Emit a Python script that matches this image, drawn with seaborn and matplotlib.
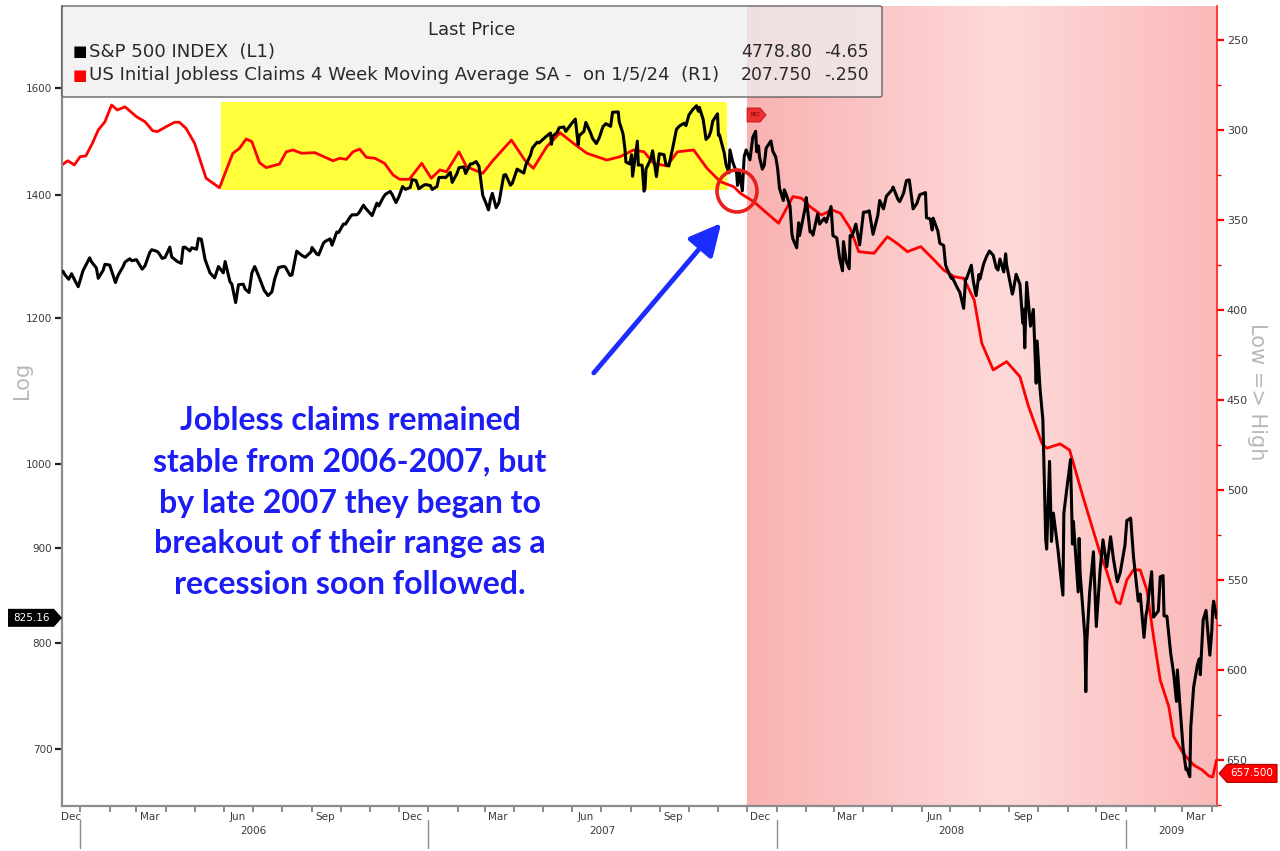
import numpy as np
import pandas as pd
import matplotlib
matplotlib.use("Agg")
import matplotlib.pyplot as plt
import matplotlib.dates as mdates
import matplotlib.transforms as mtrans
from matplotlib.patches import Rectangle, Ellipse, FancyArrowPatch, FancyBboxPatch, Polygon
from matplotlib.ticker import FixedLocator, NullLocator, FuncFormatter
import seaborn as sns

# ---------------- data ----------------
spx_dates = [
    "2005-12-14", "2005-12-16", "2005-12-20", "2005-12-23", "2005-12-27", "2005-12-30",
    "2006-01-04", "2006-01-11", "2006-01-13", "2006-01-18", "2006-01-20", "2006-01-25", "2006-01-27",
    "2006-02-01", "2006-02-07", "2006-02-10", "2006-02-15", "2006-02-17", "2006-02-22", "2006-02-24",
    "2006-03-01", "2006-03-07", "2006-03-10", "2006-03-15", "2006-03-17", "2006-03-22", "2006-03-24",
    "2006-03-28", "2006-03-31", "2006-04-05", "2006-04-07", "2006-04-13", "2006-04-17", "2006-04-19",
    "2006-04-21", "2006-04-26", "2006-04-28", "2006-05-03", "2006-05-05", "2006-05-08", "2006-05-12",
    "2006-05-17", "2006-05-19", "2006-05-22", "2006-05-26", "2006-05-31", "2006-06-02", "2006-06-07",
    "2006-06-09", "2006-06-13", "2006-06-16", "2006-06-21", "2006-06-23", "2006-06-27", "2006-06-30",
    "2006-07-03", "2006-07-07", "2006-07-13", "2006-07-17", "2006-07-21", "2006-07-24", "2006-07-28",
    "2006-08-02", "2006-08-04", "2006-08-09", "2006-08-11", "2006-08-16", "2006-08-18", "2006-08-22",
    "2006-08-25", "2006-08-31", "2006-09-01", "2006-09-06", "2006-09-08", "2006-09-13", "2006-09-15",
    "2006-09-20", "2006-09-22", "2006-09-27", "2006-09-29", "2006-10-04", "2006-10-06", "2006-10-11",
    "2006-10-13", "2006-10-18", "2006-10-20", "2006-10-25", "2006-10-27", "2006-11-01", "2006-11-03",
    "2006-11-08", "2006-11-10", "2006-11-15", "2006-11-17", "2006-11-22", "2006-11-24", "2006-11-28",
    "2006-12-01", "2006-12-05", "2006-12-08", "2006-12-13", "2006-12-15", "2006-12-19", "2006-12-22",
    "2006-12-27", "2006-12-29",
    "2007-01-03", "2007-01-05", "2007-01-10", "2007-01-12", "2007-01-17", "2007-01-19", "2007-01-24",
    "2007-01-26", "2007-01-31", "2007-02-02", "2007-02-07", "2007-02-09", "2007-02-14", "2007-02-16",
    "2007-02-20", "2007-02-23", "2007-02-27", "2007-03-02", "2007-03-05", "2007-03-07", "2007-03-09",
    "2007-03-13", "2007-03-16", "2007-03-21", "2007-03-23", "2007-03-28", "2007-03-30", "2007-04-04",
    "2007-04-06", "2007-04-11", "2007-04-13", "2007-04-18", "2007-04-20", "2007-04-25", "2007-04-27",
    "2007-05-02", "2007-05-04", "2007-05-09", "2007-05-10", "2007-05-11", "2007-05-16", "2007-05-18",
    "2007-05-23", "2007-05-25", "2007-05-31", "2007-06-04", "2007-06-07", "2007-06-08", "2007-06-13",
    "2007-06-15", "2007-06-20", "2007-06-22", "2007-06-26", "2007-06-29", "2007-07-03", "2007-07-06",
    "2007-07-11", "2007-07-13", "2007-07-19", "2007-07-20", "2007-07-24", "2007-07-26", "2007-07-27",
    "2007-07-31", "2007-08-02", "2007-08-03", "2007-08-08", "2007-08-09", "2007-08-10", "2007-08-13",
    "2007-08-15", "2007-08-16", "2007-08-17", "2007-08-22", "2007-08-24", "2007-08-28", "2007-08-31",
    "2007-09-05", "2007-09-07", "2007-09-10", "2007-09-14", "2007-09-18", "2007-09-21", "2007-09-26",
    "2007-09-28", "2007-10-01", "2007-10-05", "2007-10-09", "2007-10-11", "2007-10-12", "2007-10-16",
    "2007-10-19", "2007-10-22", "2007-10-24", "2007-10-26", "2007-10-31", "2007-11-01", "2007-11-02",
    "2007-11-07", "2007-11-09", "2007-11-12", "2007-11-13", "2007-11-16", "2007-11-20", "2007-11-21",
    "2007-11-23", "2007-11-26", "2007-11-28", "2007-11-30", "2007-12-04", "2007-12-07", "2007-12-10",
    "2007-12-11", "2007-12-13", "2007-12-14", "2007-12-17", "2007-12-19", "2007-12-21", "2007-12-26",
    "2007-12-28", "2007-12-31",
    "2008-01-02", "2008-01-04", "2008-01-08", "2008-01-09", "2008-01-11", "2008-01-15", "2008-01-17",
    "2008-01-18", "2008-01-22", "2008-01-24", "2008-01-25", "2008-01-28", "2008-01-31", "2008-02-01",
    "2008-02-05", "2008-02-07", "2008-02-08", "2008-02-13", "2008-02-15", "2008-02-20", "2008-02-22",
    "2008-02-27", "2008-02-29", "2008-03-04", "2008-03-07", "2008-03-10", "2008-03-11", "2008-03-14",
    "2008-03-17", "2008-03-18", "2008-03-20", "2008-03-24", "2008-03-28", "2008-04-01", "2008-04-04",
    "2008-04-07", "2008-04-11", "2008-04-16", "2008-04-18", "2008-04-22", "2008-04-25", "2008-05-01",
    "2008-05-02", "2008-05-07", "2008-05-09", "2008-05-13", "2008-05-16", "2008-05-19", "2008-05-23",
    "2008-05-27", "2008-05-30", "2008-06-05", "2008-06-06", "2008-06-10", "2008-06-12", "2008-06-13",
    "2008-06-18", "2008-06-20", "2008-06-24", "2008-06-26", "2008-06-27", "2008-07-02", "2008-07-03",
    "2008-07-09", "2008-07-11", "2008-07-15", "2008-07-17", "2008-07-18", "2008-07-23", "2008-07-25",
    "2008-07-28", "2008-07-31", "2008-08-01", "2008-08-05", "2008-08-08", "2008-08-11", "2008-08-15",
    "2008-08-18", "2008-08-20", "2008-08-22", "2008-08-26", "2008-08-28", "2008-08-29", "2008-09-04",
    "2008-09-05", "2008-09-08", "2008-09-12", "2008-09-15", "2008-09-16", "2008-09-17", "2008-09-19",
    "2008-09-23", "2008-09-26", "2008-09-29", "2008-09-30", "2008-10-03", "2008-10-06", "2008-10-09",
    "2008-10-10", "2008-10-13", "2008-10-15", "2008-10-17", "2008-10-22", "2008-10-24", "2008-10-27",
    "2008-10-28", "2008-10-31", "2008-11-04", "2008-11-06", "2008-11-07", "2008-11-12", "2008-11-13",
    "2008-11-14", "2008-11-19", "2008-11-20", "2008-11-21", "2008-11-24", "2008-11-28", "2008-12-01",
    "2008-12-05", "2008-12-08", "2008-12-12", "2008-12-16", "2008-12-19", "2008-12-23", "2008-12-26",
    "2008-12-31",
    "2009-01-02", "2009-01-06", "2009-01-09", "2009-01-14", "2009-01-16", "2009-01-20", "2009-01-22",
    "2009-01-23", "2009-01-28", "2009-01-30", "2009-02-04", "2009-02-06", "2009-02-09", "2009-02-10",
    "2009-02-13", "2009-02-17", "2009-02-20", "2009-02-23", "2009-02-24", "2009-02-27", "2009-03-02",
    "2009-03-05", "2009-03-06", "2009-03-09", "2009-03-10", "2009-03-13", "2009-03-17", "2009-03-19",
    "2009-03-20", "2009-03-23", "2009-03-26", "2009-03-30", "2009-04-01", "2009-04-02", "2009-04-03",
    "2009-04-06",
]
spx_values = [
    1272.7, 1267.3, 1259.9, 1268.7, 1256.5, 1248.3,
    1273.5, 1294.2, 1287.6, 1277.9, 1261.5, 1273.8, 1283.7,
    1282.5, 1254.8, 1266.9, 1280.0, 1287.2, 1292.7, 1289.4,
    1291.2, 1275.9, 1281.4, 1303.0, 1307.3, 1305.0, 1302.9,
    1293.2, 1294.8, 1311.6, 1295.5, 1288.1, 1285.3, 1311.3,
    1311.5, 1305.4, 1310.6, 1308.1, 1325.8, 1324.7, 1291.2,
    1270.3, 1267.0, 1262.1, 1280.2, 1270.1, 1288.2, 1256.2,
    1252.3, 1223.7, 1251.5, 1252.2, 1244.5, 1239.2, 1270.2,
    1280.2, 1265.5, 1242.3, 1234.5, 1240.3, 1260.9, 1278.6,
    1280.3, 1279.4, 1265.9, 1266.7, 1305.0, 1302.3, 1297.5,
    1295.1, 1303.8, 1311.0, 1300.3, 1298.9, 1318.1, 1321.2,
    1325.2, 1314.8, 1336.6, 1335.9, 1350.2, 1349.6, 1362.0,
    1365.6, 1365.8, 1368.6, 1382.2, 1377.3, 1367.8, 1364.3,
    1385.7, 1380.9, 1396.6, 1401.2, 1406.1, 1400.9, 1386.7,
    1396.7, 1414.8, 1409.8, 1413.2, 1427.1, 1425.5, 1410.8,
    1416.9, 1418.3,
    1416.6, 1409.7, 1414.9, 1430.7, 1431.3, 1430.5, 1440.1,
    1422.2, 1438.2, 1448.4, 1450.0, 1438.1, 1455.3, 1455.5,
    1459.7, 1451.2, 1399.0, 1387.2, 1374.1, 1391.9, 1402.8,
    1377.9, 1386.9, 1435.0, 1436.1, 1417.2, 1420.9, 1445.9,
    1443.8, 1438.9, 1452.9, 1471.5, 1484.4, 1495.4, 1494.1,
    1502.4, 1505.6, 1512.6, 1491.5, 1505.9, 1514.1, 1522.8,
    1524.1, 1515.7, 1530.6, 1539.2, 1490.7, 1507.7, 1515.7,
    1532.9, 1512.8, 1502.6, 1492.9, 1503.4, 1524.9, 1530.4,
    1525.4, 1552.5, 1553.1, 1534.1, 1511.0, 1482.7, 1458.9,
    1455.3, 1472.2, 1433.1, 1497.5, 1453.1, 1453.6, 1452.9,
    1406.7, 1411.3, 1445.9, 1464.1, 1479.4, 1432.4, 1474.0,
    1472.3, 1453.6, 1451.7, 1484.3, 1519.8, 1525.8, 1531.4,
    1526.8, 1547.0, 1557.6, 1565.2, 1554.4, 1561.8, 1538.5,
    1500.6, 1506.3, 1515.9, 1535.3, 1549.4, 1508.4, 1509.7,
    1475.6, 1453.7, 1439.2, 1481.1, 1458.7, 1439.7, 1416.8,
    1440.7, 1407.2, 1469.0, 1481.1, 1462.8, 1504.7, 1516.0,
    1477.7, 1488.4, 1468.0, 1445.9, 1453.0, 1484.5, 1497.7,
    1478.5, 1468.4,
    1447.2, 1411.6, 1390.2, 1409.1, 1401.0, 1380.9, 1333.3,
    1325.2, 1310.5, 1352.1, 1330.6, 1354.0, 1378.6, 1395.4,
    1336.6, 1336.9, 1331.3, 1367.2, 1350.0, 1360.0, 1353.1,
    1380.0, 1330.6, 1326.8, 1293.4, 1273.4, 1320.7, 1288.1,
    1276.6, 1330.7, 1329.5, 1349.9, 1315.2, 1370.2, 1370.4,
    1372.5, 1332.8, 1364.7, 1390.3, 1375.9, 1397.8, 1409.3,
    1413.9, 1392.6, 1388.3, 1403.0, 1425.4, 1426.6, 1375.9,
    1385.4, 1400.4, 1404.1, 1360.7, 1358.4, 1339.9, 1360.0,
    1337.8, 1317.9, 1314.3, 1283.2, 1278.4, 1261.5, 1262.9,
    1244.7, 1239.5, 1214.9, 1260.3, 1260.7, 1282.2, 1257.8,
    1234.4, 1267.4, 1260.3, 1284.9, 1296.3, 1305.3, 1298.2,
    1278.6, 1274.5, 1292.2, 1271.5, 1300.7, 1282.8, 1236.8,
    1242.3, 1267.8, 1251.7, 1192.7, 1213.6, 1156.4, 1255.1,
    1188.2, 1213.3, 1106.4, 1166.4, 1099.2, 1056.9, 909.9,
    899.2, 1003.4, 907.8, 940.6, 896.8, 876.8, 848.9,
    940.5, 968.8, 1005.8, 904.9, 931.0, 852.3, 911.3,
    873.3, 806.6, 752.4, 800.0, 851.8, 896.2, 816.2,
    876.1, 909.7, 879.7, 913.2, 887.9, 863.2, 872.8,
    903.3,
    931.8, 934.7, 890.4, 842.6, 850.1, 805.2, 827.5,
    832.0, 874.1, 825.9, 832.2, 868.6, 869.9, 827.2,
    826.8, 789.2, 770.1, 743.3, 773.1, 735.1, 700.8,
    682.6, 683.4, 676.5, 719.6, 756.6, 778.1, 784.0,
    768.5, 822.9, 832.9, 787.5, 811.1, 834.4, 842.5,
    825.16,
]

claims_dates = [
    "2005-12-13", "2005-12-19", "2005-12-26", "2006-01-01", "2006-01-07", "2006-01-14", "2006-01-20",
    "2006-01-27", "2006-02-03", "2006-02-09", "2006-02-17", "2006-03-01", "2006-03-10", "2006-03-18",
    "2006-03-23", "2006-04-01", "2006-04-10", "2006-04-15", "2006-04-22", "2006-05-01", "2006-05-13",
    "2006-05-27", "2006-06-10", "2006-06-17", "2006-06-24", "2006-06-30", "2006-07-08", "2006-07-15",
    "2006-07-29", "2006-08-05", "2006-08-12", "2006-08-21", "2006-09-04", "2006-09-23", "2006-09-30",
    "2006-10-07", "2006-10-14", "2006-10-21", "2006-10-28", "2006-11-06", "2006-11-16", "2006-11-25",
    "2006-12-02", "2006-12-12", "2006-12-25", "2007-01-04", "2007-01-13", "2007-01-20", "2007-02-02",
    "2007-02-10", "2007-02-27", "2007-03-10", "2007-03-29", "2007-04-12", "2007-04-21", "2007-05-05",
    "2007-05-19", "2007-06-02", "2007-06-16", "2007-07-07", "2007-07-21", "2007-08-04", "2007-08-15",
    "2007-08-25", "2007-09-08", "2007-09-19", "2007-10-06", "2007-10-20", "2007-11-03", "2007-11-17",
    "2007-11-24", "2007-12-08", "2007-12-22", "2008-01-03", "2008-01-18", "2008-01-27", "2008-02-05",
    "2008-02-17", "2008-02-28", "2008-03-08", "2008-03-18", "2008-03-27", "2008-04-12", "2008-04-26",
    "2008-05-06", "2008-05-17", "2008-05-31", "2008-06-14", "2008-06-24", "2008-07-05", "2008-07-15",
    "2008-07-26", "2008-08-03", "2008-08-15", "2008-08-29", "2008-09-12", "2008-09-21", "2008-10-05",
    "2008-10-10", "2008-10-24", "2008-11-03", "2008-11-17", "2008-12-05", "2008-12-12", "2008-12-22",
    "2008-12-26", "2009-01-02", "2009-01-09", "2009-01-16", "2009-01-23", "2009-01-30", "2009-02-06",
    "2009-02-15", "2009-02-20", "2009-03-02", "2009-03-13", "2009-03-22", "2009-03-29", "2009-04-02",
    "2009-04-06",
]
claims_values = [
    319.4, 317.1, 319.4, 314.8, 314.4, 307.2, 300.0,
    295.4, 286.1, 288.9, 287.1, 292.6, 295.4, 300.4,
    300.9, 298.2, 295.7, 295.7, 299.1, 307.4, 326.8,
    332.1, 313.0, 310.2, 305.0, 306.5, 318.2, 320.9,
    318.9, 312.1, 311.1, 312.9, 312.6, 317.1, 315.7,
    316.3, 312.1, 310.6, 315.2, 315.7, 318.5, 325.0,
    327.4, 327.4, 318.5, 326.8, 322.2, 323.2, 312.1,
    320.4, 324.1, 316.7, 305.6, 316.7, 321.3, 309.3,
    301.5, 307.4, 312.9, 316.7, 314.8, 311.1, 312.1,
    318.5, 320.0, 312.1, 311.1, 321.3, 328.7, 331.5,
    335.2, 339.8, 346.3, 351.8, 337.0, 337.9, 342.6,
    347.2, 344.4, 346.3, 354.6, 367.6, 368.5, 359.3,
    362.9, 367.6, 364.8, 372.2, 377.8, 381.5, 382.4,
    394.4, 418.5, 433.3, 428.7, 437.1, 453.7, 474.1,
    476.8, 474.4, 477.8, 503.7, 535.2, 545.4, 562.1,
    563.3, 550.0, 544.4, 544.4, 555.6, 581.5, 605.6,
    620.4, 637.0, 646.3, 652.8, 655.6, 658.9, 659.5,
    650.0,
]

spx_last = 825.16
claims_last = 657.5
spx_ticks = [700, 800, 900, 1000, 1200, 1400, 1600]
claims_ticks = [250, 300, 350, 400, 450, 500, 550, 600, 650]
month_label_dates = ["2005-12-23", "2006-03-15", "2006-06-15", "2006-09-15", "2006-12-15",
                     "2007-03-15", "2007-06-15", "2007-09-15", "2007-12-15", "2008-03-15",
                     "2008-06-15", "2008-09-15", "2008-12-15", "2009-03-15"]
month_labels = ["Dec", "Mar", "Jun", "Sep", "Dec", "Mar", "Jun", "Sep", "Dec", "Mar",
                "Jun", "Sep", "Dec", "Mar"]
year_labels = ["2006", "2007", "2008", "2009"]
year_label_dates = ["2006-07-02", "2007-07-02", "2008-07-02", "2009-02-18"]
year_starts = ["2006-01-01", "2007-01-01", "2008-01-01", "2009-01-01"]
recession_start = "2007-12-01"
range_box_dates = ["2006-05-29", "2007-11-10"]
range_box_claims = [284.4, 333.3]

annotation_lines = ["Jobless claims remained", "stable from 2006-2007, but",
                    "by late 2007 they began to", "breakout of their range as a",
                    "recession soon followed."]

# ---------------- figure ----------------
sns.set_style("white")
plt.rcParams['font.family'] = ['DejaVu Sans']

W, H = 1280, 851
fig = plt.figure(figsize=(W / 100, H / 100), dpi=100)
fig.patch.set_facecolor("white")
L, R, T, B = 62, 1217, 6, 806
ax = fig.add_axes([L / W, 1 - B / H, (R - L) / W, (B - T) / H])
ax2 = ax.twinx()
ax.set_zorder(3)
ax2.set_zorder(2)
ax.patch.set_visible(False)

xmin = pd.Timestamp("2005-12-13")
xmax = pd.Timestamp("2009-04-06 12:00")

spx = pd.DataFrame({"date": pd.to_datetime(spx_dates), "value": spx_values})
clm = pd.DataFrame({"date": pd.to_datetime(claims_dates), "value": claims_values})

# recession shading with gradient
x0 = mdates.date2num(pd.Timestamp(recession_start))
x1 = mdates.date2num(xmax)
stops = np.array([[0.0, 249, 177, 177], [0.55, 253, 217, 217], [1.0, 250, 184, 184]])
n = 160
edges = np.linspace(x0, x1, n + 1)
for i in range(n):
    f = (i + 0.5) / n
    c = [np.interp(f, stops[:, 0], stops[:, k]) / 255 for k in (1, 2, 3)]
    ax2.axvspan(edges[i], edges[i + 1], color=c, lw=0, zorder=0)

# yellow range box
rb0 = mdates.date2num(pd.Timestamp(range_box_dates[0]))
rb1 = mdates.date2num(pd.Timestamp(range_box_dates[1]))
ax2.add_patch(Rectangle((rb0, range_box_claims[0]), rb1 - rb0,
                        range_box_claims[1] - range_box_claims[0],
                        facecolor="#ffff3c", edgecolor="none", zorder=1))

sns.lineplot(data=clm, x="date", y="value", ax=ax2, color="#ff0000", lw=2.0,
             estimator=None, zorder=3)
sns.lineplot(data=spx, x="date", y="value", ax=ax, color="black", lw=2.2,
             estimator=None, zorder=4)

# axes scales / limits
ax.set_yscale("log")
ax.set_ylim(652.2, 1773)
ax2.set_ylim(675.6, 231.1)
ax.set_xlim(xmin, xmax)
ax2.set_xlim(xmin, xmax)
for a in (ax, ax2):
    a.set_xlabel("")
    a.set_ylabel("")

# spines
for s in ("top", "right"):
    ax.spines[s].set_visible(False)
for s in ("left", "bottom"):
    ax.spines[s].set_color("#8c8c8c")
    ax.spines[s].set_linewidth(1.6)
for s in ("top", "left", "bottom"):
    ax2.spines[s].set_visible(False)
ax2.spines["right"].set_color("#ff2020")
ax2.spines["right"].set_linewidth(1.2)

# left ticks
ax.yaxis.set_major_locator(FixedLocator(spx_ticks))
ax.yaxis.set_minor_locator(NullLocator())
ax.yaxis.set_major_formatter(FuncFormatter(lambda v, p: f"{v:.0f}"))
ax.tick_params(axis="y", which="major", direction="out", length=5, width=1.6,
               color="#222222", labelsize=7.5, labelcolor="#3a3a3a", pad=2, left=True)

# right ticks
ax2.yaxis.set_major_locator(FixedLocator(claims_ticks))
ax2.yaxis.set_minor_locator(FixedLocator([t + 25 for t in claims_ticks]))
ax2.yaxis.set_major_formatter(FuncFormatter(lambda v, p: f"{v:.0f}"))
ax2.tick_params(axis="y", which="major", direction="out", length=5, width=1.6,
                color="#ff0000", labelsize=8, labelcolor="#3a3a3a", pad=2, right=True)
ax2.tick_params(axis="y", which="minor", direction="out", length=3, width=1,
                color="#ff0000", right=True)
ax2.tick_params(axis="x", which="both", bottom=False, labelbottom=False)

# x ticks
ax.set_xticks(mdates.date2num(pd.to_datetime(month_label_dates)))
ax.set_xticklabels(month_labels)
ax.xaxis.set_minor_locator(mdates.MonthLocator())
ax.tick_params(axis="x", which="major", length=0, labelsize=7.5, labelcolor="#3a3a3a", pad=4)
ax.tick_params(axis="x", which="minor", direction="out", length=4, width=1.2,
               color="#777777", bottom=True)

xtrans = mtrans.blended_transform_factory(ax.transData, ax.transAxes)
for d, lab in zip(year_label_dates, year_labels):
    ax.text(mdates.date2num(pd.Timestamp(d)), -0.031, lab, transform=xtrans,
            ha="center", va="center", fontsize=7.5, color="#3a3a3a", clip_on=False)
for d in year_starts:
    xd = mdates.date2num(pd.Timestamp(d))
    ax.plot([xd, xd], [-0.0175, -0.0525], transform=xtrans, color="#8c8c8c",
            lw=1.0, clip_on=False)

# axis titles
fig.text(22 / W, 1 - 380 / H, "Log", rotation=90, ha="center", va="center",
         fontsize=15, color="#b8b8b8")
fig.text(1257 / W, 1 - 392 / H, "Low => High", rotation=270, ha="center",
         va="center", fontsize=15, color="#b8b8b8")

# legend box
fig.add_artist(FancyBboxPatch((L / W, 1 - 97 / H), (882 - L) / W, (97 - 6) / H,
                              boxstyle="round,pad=0,rounding_size=0.002",
                              transform=fig.transFigure, facecolor="#eeeeee",
                              edgecolor="#555555", lw=1.2, alpha=0.75, zorder=10))
fig.text(472 / W, 1 - 30 / H, "Last Price", ha="center", va="center", fontsize=13,
         color="#2a2a2a", zorder=11)
legend_rows = [("S&P 500 INDEX  (L1)", "black", "4778.80", "-4.65", 52),
               ("US Initial Jobless Claims 4 Week Moving Average SA -  on 1/5/24  (R1)",
                "#ff0000", "207.750", "-.250", 75)]
for label, col, v1, v2, yy in legend_rows:
    fig.text(80 / W, 1 - yy / H, "\u25A0", ha="center", va="center", fontsize=11,
             color=col, zorder=11)
    fig.text(89 / W, 1 - yy / H, label, ha="left", va="center", fontsize=13.1,
             color="#2a2a2a", zorder=11)
    fig.text(812 / W, 1 - yy / H, v1, ha="right", va="center", fontsize=12.4,
             color="#2a2a2a", zorder=11)
    fig.text(869 / W, 1 - yy / H, v2, ha="right", va="center", fontsize=12.4,
             color="#2a2a2a", zorder=11)

# annotation text
ytext = [420, 462, 503, 543, 584]
for line, yy in zip(annotation_lines, ytext):
    fig.text(350 / W, 1 - yy / H, line, ha="center", va="center", fontsize=23,
             fontweight="bold", family="Lato", color="#1c1cf5", zorder=12)

# arrow and circle
fig.add_artist(FancyArrowPatch((592 / W, 1 - 375 / H), (723 / W, 1 - 221 / H),
                               transform=fig.transFigure, arrowstyle="-|>,head_length=12,head_width=6",
                               mutation_scale=1.6, color="#1a2cff", lw=3.5, zorder=12))
fig.add_artist(Ellipse((737 / W, 1 - 191 / H), 40 / W, 42 / H, transform=fig.transFigure,
                       facecolor="none", edgecolor="#e8201c", lw=2.6, zorder=12))

# value tags
fig.canvas.draw()
ypix_spx = ax.transData.transform((mdates.date2num(xmax), spx_last))[1]
ypix_clm = ax2.transData.transform((mdates.date2num(xmax), claims_last))[1]
hh = 9
fig.add_artist(Polygon([(8, ypix_spx - hh), (54, ypix_spx - hh), (62, ypix_spx),
                        (54, ypix_spx + hh), (8, ypix_spx + hh)], closed=True,
                       transform=None, facecolor="black", edgecolor="none", zorder=12))
fig.text(32 / W, ypix_spx / H, f"{spx_last:.2f}", ha="center", va="center",
         fontsize=7.5, color="white", zorder=13)
fig.add_artist(Polygon([(1219, ypix_clm), (1227, ypix_clm - hh), (1277, ypix_clm - hh),
                        (1277, ypix_clm + hh), (1227, ypix_clm + hh)], closed=True,
                       transform=None, facecolor="#ff0000", edgecolor="#b00000", lw=0.8, zorder=12))
fig.text(1252 / W, ypix_clm / H, f"{claims_last:.3f}", ha="center", va="center",
         fontsize=7.5, color="white", zorder=13)

# REC marker
xrec = ax.transData.transform((mdates.date2num(pd.Timestamp(recession_start)), 1000))[0]
yrec = H - 115
fig.add_artist(Polygon([(xrec, yrec - 7), (xrec + 13, yrec - 7), (xrec + 19, yrec),
                        (xrec + 13, yrec + 7), (xrec, yrec + 7)], closed=True,
                       transform=None, facecolor="#f03030", edgecolor="#c01010", lw=0.6, zorder=12))
fig.text((xrec + 8) / W, yrec / H, "REC", ha="center", va="center", fontsize=3.5,
         color="#600000", zorder=13)

fig.savefig("out.png", dpi=100, facecolor="white")
